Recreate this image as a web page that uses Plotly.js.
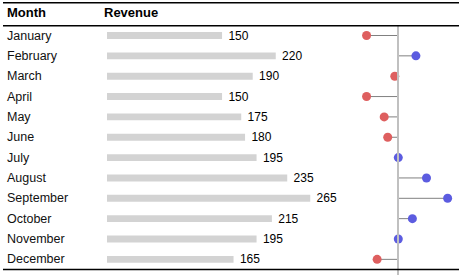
<!DOCTYPE html>
<html>
<head>
<meta charset="utf-8">
<script src="https://cdn.plot.ly/plotly-3.0.1.min.js"></script>
<style>html,body{margin:0;padding:0;background:#fff;}#chart{width:462px;height:275px;}</style>
</head>
<body>
<div id="chart"></div>
<script>
const months = ["January","February","March","April","May","June","July","August","September","October","November","December"];
const revenue = [150,220,190,150,175,180,195,235,265,215,195,165];
const headers = ["Month","Revenue"];

const W = 462, H = 275;
const idx = months.map((m,i)=>i);
const mean = revenue.reduce((a,b)=>a+b,0)/revenue.length;
const font = "Liberation Sans, Arial, sans-serif";

// stems
const sx = [], sy = [];
revenue.forEach((v,i)=>{ sx.push(mean, v, null); sy.push(i, i, null); });

const traces = [
  {type:'bar', orientation:'h', x:revenue, y:idx, xaxis:'x', yaxis:'y',
   width:0.34, marker:{color:'#d3d3d3'},
   text:revenue.map(v=>'\u00a0'+v), textposition:'outside', constraintext:'none', cliponaxis:false,
   textfont:{family:font,size:12,color:'#000'}, hoverinfo:'skip'},
  {type:'scatter', mode:'lines', x:sx, y:sy, xaxis:'x2', yaxis:'y',
   line:{color:'#808080', width:1}, hoverinfo:'skip'},
  {type:'scatter', mode:'markers', x:revenue, y:idx, xaxis:'x2', yaxis:'y', cliponaxis:false,
   marker:{size:9, color:revenue.map(v=> v>=mean ? '#5c5ce0' : '#de5f5f')}, hoverinfo:'skip'}
];

const px = p => p/W;
const py = p => 1 - p/H;

const annotations = months.map((m,i)=>({
  text:m, xref:'paper', x:px(5), yref:'y', y:i, xanchor:'left', yanchor:'middle',
  showarrow:false, font:{family:font,size:12.5,color:'#111'}
}));
annotations.push({text:'<b>'+headers[0]+'</b>', xref:'paper', x:px(5), yref:'paper', y:py(13),
  xanchor:'left', yanchor:'middle', showarrow:false, font:{family:font,size:13,color:'#000'}});
annotations.push({text:'<b>'+headers[1]+'</b>', xref:'paper', x:px(102), yref:'paper', y:py(13),
  xanchor:'left', yanchor:'middle', showarrow:false, font:{family:font,size:13,color:'#000'}});

const hline = y => ({type:'line', xref:'paper', yref:'paper', x0:px(3), x1:px(459), y0:py(y), y1:py(y),
  line:{color:'#000', width:1.5}});

const layout = {
  width:W, height:H, margin:{l:0,r:0,t:0,b:0}, showlegend:false,
  paper_bgcolor:'#fff', plot_bgcolor:'rgba(0,0,0,0)',
  xaxis:{domain:[px(107), px(340)], range:[0, 233/0.767], visible:false, fixedrange:true},
  xaxis2:{domain:[px(340), 1], range:[mean-58/0.705, mean+64/0.705], visible:false, anchor:'y', fixedrange:true},
  yaxis:{domain:[0,1], range:[(H-35.5)/20.35, -35.5/20.35], visible:false, fixedrange:true},
  annotations:annotations,
  shapes:[
    {type:'line', xref:'x2', yref:'paper', x0:mean, x1:mean, y0:0, y1:py(26), line:{color:'#c0c0c0', width:2}},
    hline(2.7), hline(25.7), hline(269.5)
  ]
};

Plotly.newPlot('chart', traces, layout, {staticPlot:true, displayModeBar:false});
</script>
</body>
</html>
